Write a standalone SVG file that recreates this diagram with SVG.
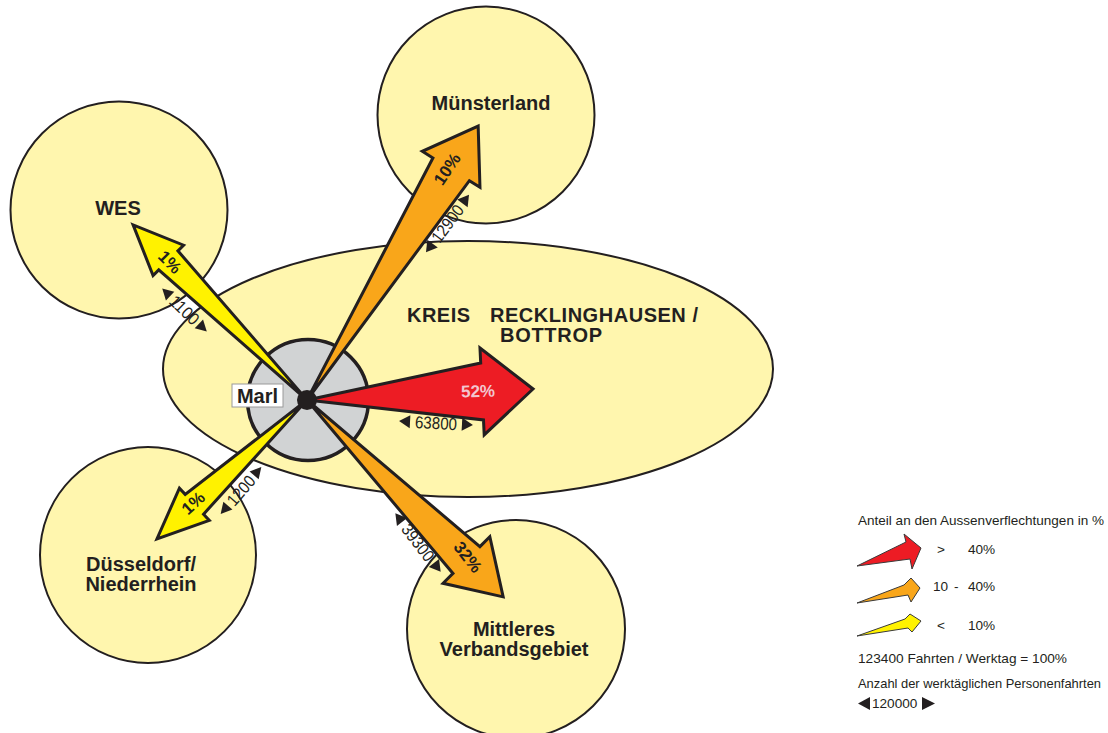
<svg xmlns="http://www.w3.org/2000/svg" width="1108" height="733" viewBox="0 0 1108 733">
<style>
.reg{fill:#fff6ae;stroke:#231f20;stroke-width:2}
.lbl{font-family:"Liberation Sans",Arial,sans-serif;font-weight:bold;font-size:20px;fill:#231f20;text-anchor:middle}
.arr{stroke:#231f20;stroke-width:3;stroke-linejoin:miter}
.pct{font-family:"Liberation Sans",Arial,sans-serif;font-weight:bold;font-size:17px;fill:#231f20;text-anchor:middle}
.cnt{font-family:"Liberation Sans",Arial,sans-serif;font-size:17px;fill:#231f20;text-anchor:middle}
.tri{fill:#231f20}
.leg{font-family:"Liberation Sans",Arial,sans-serif;font-size:13.6px;fill:#231f20}
.larr{stroke:#3a3a3a;stroke-width:1;stroke-linejoin:miter}
</style>

<g id="node-wes">
<circle class="reg" cx="119" cy="210" r="108.5"/>
<text class="lbl" x="118" y="215">WES</text>
</g>
<g id="node-muensterland">
<circle class="reg" cx="486" cy="115" r="108.5"/>
<text class="lbl" x="491" y="109.5">Münsterland</text>
</g>
<g id="node-duesseldorf">
<circle class="reg" cx="148" cy="555" r="108"/>
<text class="lbl" x="141" y="570.5">Düsseldorf/</text>
<text class="lbl" x="141" y="590.5">Niederrhein</text>
</g>
<g id="node-mittleres">
<circle class="reg" cx="516" cy="629" r="109"/>
<text class="lbl" x="514" y="636">Mittleres</text>
<text class="lbl" x="514" y="656">Verbandsgebiet</text>
</g>
<g id="node-kreis">
<ellipse class="reg" cx="468" cy="369" rx="305" ry="128"/>
<text class="lbl" x="407" y="322" style="text-anchor:start" textLength="63">KREIS</text>
<text class="lbl" x="490" y="322" style="text-anchor:start" textLength="208">RECKLINGHAUSEN /</text>
<text class="lbl" x="500" y="342" style="text-anchor:start" textLength="102">BOTTROP</text>
</g>
<g id="node-marl-area">
<circle cx="308" cy="400" r="60.5" fill="#d1d3d4" stroke="#231f20" stroke-width="3.5"/>
</g>

<g id="connectors">
<polygon class="arr" fill="#ed1c24" transform="translate(307,400) rotate(-2.79)" points="0,0 175.3,-28.5 175.3,-43.5 226.3,0 175.3,43.5 175.3,28.5"/>
<polygon class="arr" fill="#f9a61a" transform="translate(307,400) rotate(-58)" points="0,0 272,-21.5 272,-34 323,0 272,34 272,21.5"/>
<polygon class="arr" fill="#fff200" transform="translate(307,400) rotate(-134.8)" points="0,0 196.8,-13.5 196.8,-21.5 246.8,0 196.8,21.5 196.8,13.5"/>
<polygon class="arr" fill="#fff200" transform="translate(307,400) rotate(137.2)" points="0,0 153.5,-13.5 153.5,-22 204.5,0 153.5,22 153.5,13.5"/>
<polygon class="arr" fill="#f9a61a" transform="translate(307,400) rotate(45.1)" points="0,0 225.9,-19 225.9,-33 277.9,0 225.9,33 225.9,19"/>

<text class="pct" transform="translate(478,391) rotate(-2)" dy="6" style="fill:#f2c6cf">52%</text>
<text class="pct" transform="translate(447,169) rotate(-56)" dy="6">10%</text>
<text class="pct" transform="translate(170,262) rotate(45)" dy="6">1%</text>
<text class="pct" transform="translate(193,503) rotate(-42)" dy="6">1%</text>
<text class="pct" transform="translate(468,557) rotate(52)" dy="6">32%</text>

<g transform="translate(436,423) rotate(3)">
<polygon class="tri" points="-37,0 -26,-6.5 -26,6.5"/>
<text class="cnt" x="0" y="6" textLength="42" lengthAdjust="spacingAndGlyphs">63800</text>
<polygon class="tri" points="37,0 26,-6.5 26,6.5"/>
</g>
<g transform="translate(447.5,223.5) rotate(-53.3)">
<polygon class="tri" points="-36,0 -25,-6.5 -25,6.5"/>
<text class="cnt" x="0" y="6" textLength="42" lengthAdjust="spacingAndGlyphs">12900</text>
<polygon class="tri" points="36,0 25,-6.5 25,6.5"/>
</g>
<g transform="translate(184.5,310) rotate(44)">
<polygon class="tri" points="-31,0 -20,-6 -20,6"/>
<text class="cnt" x="0" y="6" textLength="34" lengthAdjust="spacingAndGlyphs">1100</text>
<polygon class="tri" points="31,0 20,-6 20,6"/>
</g>
<g transform="translate(241,490.5) rotate(-49)">
<polygon class="tri" points="-31,0 -20,-6 -20,6"/>
<text class="cnt" x="0" y="6" textLength="34" lengthAdjust="spacingAndGlyphs">1200</text>
<polygon class="tri" points="31,0 20,-6 20,6"/>
</g>
<g transform="translate(418,542.5) rotate(52.2)">
<polygon class="tri" points="-37,0 -26,-6.5 -26,6.5"/>
<text class="cnt" x="0" y="6" textLength="42" lengthAdjust="spacingAndGlyphs">39300</text>
<polygon class="tri" points="37,0 26,-6.5 26,6.5"/>
</g>
</g>

<g id="node-marl">
<circle cx="307" cy="400" r="10" fill="#231f20"/>
<rect x="232" y="384" width="51" height="23" fill="#ffffff" stroke="#9a9a9a" stroke-width="1"/>
<text class="lbl" x="257.5" y="403">Marl</text>
</g>

<g id="legend">
<text class="leg" x="858" y="525" style="font-size:13.3px" textLength="246" lengthAdjust="spacingAndGlyphs">Anteil an den Aussenverflechtungen in %</text>
<polygon class="larr" fill="#ed1c24" points="857,566 906,542 904,534 921,548 912,569 910,559"/>
<text class="leg" x="937" y="554">&gt;</text>
<text class="leg" x="968" y="554">40%</text>
<polygon class="larr" fill="#f9a61a" points="857,603 904,585 911,578 920,588 911,602 908,595"/>
<text class="leg" y="591"><tspan x="933">10</tspan><tspan x="954">-</tspan><tspan x="968">40%</tspan></text>
<polygon class="larr" fill="#fff200" points="857,636 905,619 910,614 921,621 912,632 908,628"/>
<text class="leg" x="937" y="630">&lt;</text>
<text class="leg" x="968" y="630">10%</text>
<text class="leg" x="858" y="663" textLength="209" lengthAdjust="spacingAndGlyphs">123400 Fahrten / Werktag = 100%</text>
<text class="leg" x="858" y="688" style="font-size:13px" textLength="243" lengthAdjust="spacingAndGlyphs">Anzahl der werktäglichen Personenfahrten</text>
<polygon class="tri" points="858,703.5 870,697 870,710"/>
<text class="leg" x="872" y="708">120000</text>
<polygon class="tri" points="935,703.5 922,697 922,710"/>
</g>
</svg>
